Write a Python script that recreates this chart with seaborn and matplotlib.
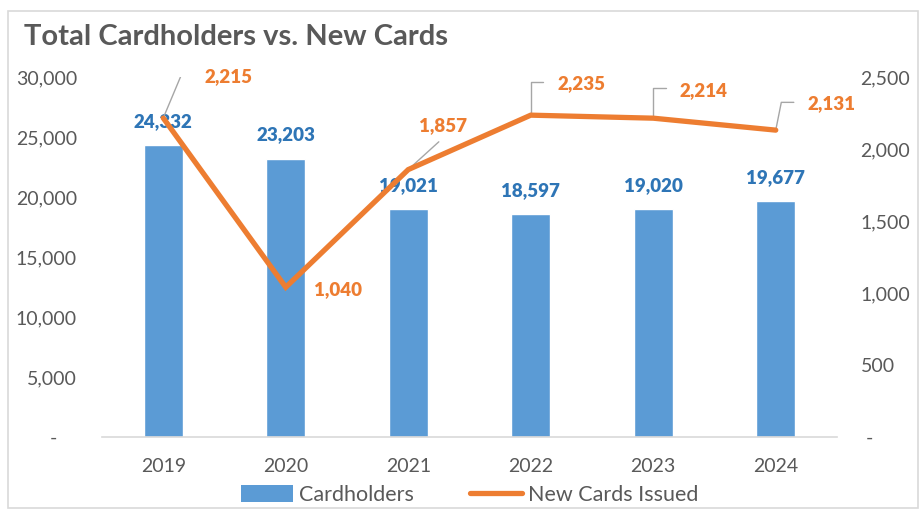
import matplotlib
matplotlib.use("Agg")
import matplotlib.pyplot as plt
import seaborn as sns
import pandas as pd
from matplotlib.patches import Rectangle, Patch
from matplotlib.lines import Line2D
from matplotlib.ticker import FuncFormatter

years = ["2019", "2020", "2021", "2022", "2023", "2024"]
cardholders = [24332, 23203, 19021, 18597, 19020, 19677]
new_cards = [2215, 1040, 1857, 2235, 2214, 2131]

sns.set_theme(style="white")
plt.rcParams['font.family'] = ['Lato', 'DejaVu Sans']

BLUE = "#5B9BD5"
BLUE_TXT = "#2E75B6"
ORANGE = "#ED7D31"
GRAY_TXT = "#595959"

df = pd.DataFrame({"Year": years, "Cardholders": cardholders, "New Cards Issued": new_cards})

fig = plt.figure(figsize=(9.22, 5.12), dpi=100)
ax = fig.add_axes([102/922, 1-437/512, 735/922, 360/512])
sns.barplot(data=df, x="Year", y="Cardholders", color=BLUE, width=0.32, ax=ax, saturation=1)
ax.set_xlim(-0.5, 5.5)
ax.set_ylim(0, 30000)
ax.set_yticks(range(0, 30001, 5000))
ax.yaxis.set_major_formatter(FuncFormatter(lambda v, p: "-    " if v == 0 else f"{int(v):,}"))
ax.set_xlabel("")
ax.set_ylabel("")
for s in ["top", "left", "right"]:
    ax.spines[s].set_visible(False)
ax.spines["bottom"].set_color("#D9D9D9")
ax.spines["bottom"].set_linewidth(1.2)
ax.tick_params(axis="y", length=0, pad=18, labelsize=14, labelcolor=GRAY_TXT)
ax.tick_params(axis="x", length=0, pad=15, labelsize=14, labelcolor=GRAY_TXT)

for i, v in enumerate(cardholders):
    ax.annotate(f"{v:,}", (i, v), xytext=(0, 17), textcoords="offset points",
                ha="center", va="center", fontsize=13.5, fontweight="heavy", color=BLUE_TXT)

ax2 = ax.twinx()
sns.lineplot(x=list(range(len(years))), y=new_cards, color=ORANGE, linewidth=3.8, ax=ax2,
             solid_joinstyle="miter")
ax2.set_ylim(0, 2500)
ax2.set_yticks(range(0, 2501, 500))
ax2.yaxis.set_major_formatter(FuncFormatter(lambda v, p: " -" if v == 0 else f"{int(v):,}"))
for s in ["top", "left", "right", "bottom"]:
    ax2.spines[s].set_visible(False)
ax2.tick_params(axis="y", length=0, pad=17, labelsize=14, labelcolor=GRAY_TXT)
ax2.set_ylabel("")
ax2.set_xlim(-0.5, 5.5)

lab_style = dict(fontsize=13.5, fontweight="heavy", color=ORANGE, va="center", ha="left")
leader_col = "#A6A6A6"
specs = {
    0: ([(0, 0), (13, 31), (22, 31)], (30, 30)),
    2: ([(0, 0), (22, 20)], (8, 32)),
    3: ([(0, 0), (0, 24), (9, 24)], (19, 23)),
    4: ([(0, 0), (0, 22), (9, 22)], (19, 20)),
    5: ([(0, 0), (4, 20), (13, 20)], (23, 19)),
}
for i, v in enumerate(new_cards):
    if i in specs:
        path, toff = specs[i]
        px0, py0 = ax2.transData.transform((i, v))
        xs = [px0 + dx * 100/72 for dx, dy in path]
        ys = [py0 + dy * 100/72 for dx, dy in path]
        inv = ax2.transData.inverted()
        pts = [inv.transform((a, b)) for a, b in zip(xs, ys)]
        ax2.plot([p[0] for p in pts], [p[1] for p in pts], color=leader_col, lw=1, zorder=1)
        ax2.annotate(f"{v:,}", (i, v), xytext=toff, textcoords="offset points", **lab_style)
    else:
        ax2.annotate(f"{v:,}", (i, v), xytext=(20, -2), textcoords="offset points", **lab_style)

fig.text(24/922, 1-37/512, "Total Cardholders vs. New Cards", fontsize=21, fontweight="bold",
         color=GRAY_TXT, ha="left", va="center")

handles = [Patch(facecolor=BLUE, edgecolor="none"),
           Line2D([0], [0], color=ORANGE, lw=3.8)]
fig.legend(handles, ["Cardholders", "New Cards Issued"], loc="center",
           bbox_to_anchor=(470/922, 1-495/512), ncol=2, frameon=False, fontsize=15.5,
           labelcolor=GRAY_TXT, handlelength=2.4, handleheight=0.8, handletextpad=0.3,
           columnspacing=2.6)

fig.patches.append(Rectangle((8/922, 4/512), 910/922, 497/512, transform=fig.transFigure,
                             fill=False, edgecolor="#D9D9D9", lw=1.2))

fig.savefig("out.png", dpi=100)
